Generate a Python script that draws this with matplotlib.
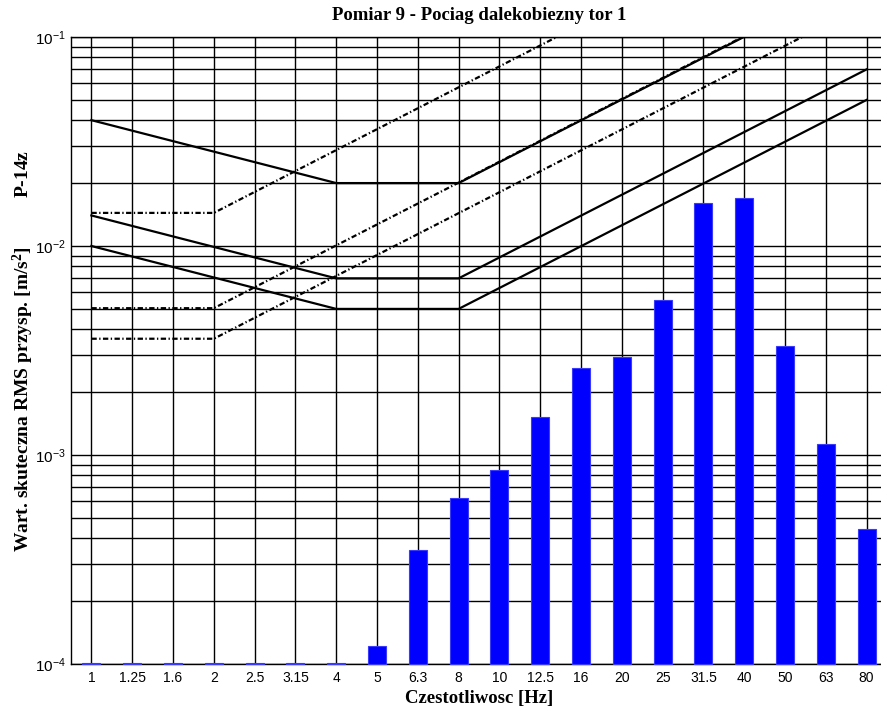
import matplotlib
matplotlib.use("Agg")
import matplotlib.pyplot as plt
import numpy as np

# 1/3 octave band centre frequencies (categories on the x axis)
freq_labels = ["1", "1.25", "1.6", "2", "2.5", "3.15", "4", "5", "6.3", "8",
               "10", "12.5", "16", "20", "25", "31.5", "40", "50", "63", "80"]

# measured RMS acceleration per band [m/s^2]
rms_values = [1.01e-4, 1.01e-4, 1.01e-4, 1.01e-4, 1.01e-4, 1.01e-4, 1.01e-4,
              1.22e-4, 3.5e-4, 6.2e-4, 8.5e-4, 1.52e-3, 2.62e-3, 2.93e-3,
              5.5e-3, 1.61e-2, 1.69e-2, 3.32e-3, 1.13e-3, 4.44e-4]

# limit curves (solid), given at break-point bands
solid_bands = ["1", "4", "8", "80"]
solid_curves = [
    [0.01, 0.005, 0.005, 0.05],
    [0.014, 0.007, 0.007, 0.07],
    [0.04, 0.02, 0.02, 0.2],
]

# limit curves (dash-dot), given at break-point bands
dashdot_bands = ["1", "2", "80"]
dashdot_curves = [
    [0.0036, 0.0036, 0.144],
    [0.00504, 0.00504, 0.2016],
    [0.0144, 0.0144, 0.576],
]

plt.rcParams["mathtext.fontset"] = "custom"
plt.rcParams["mathtext.rm"] = "Liberation Serif:bold"
plt.rcParams["mathtext.it"] = "Liberation Serif:bold"
plt.rcParams["mathtext.bf"] = "Liberation Serif:bold"
plt.rcParams["mathtext.sf"] = "Liberation Sans"

fig = plt.figure(figsize=(8.81, 7.11), dpi=100)
ax = fig.add_axes([71 / 881, 1 - 664 / 711, 816 / 881, 627 / 711])

x = np.arange(1, len(freq_labels) + 1)
ymin = 1e-4

# bars start at the bottom of the log axis
heights = [v - ymin for v in rms_values]
ax.bar(x, heights, bottom=ymin, width=0.44, color="#0000ff",
       edgecolor="#3a3aff", linewidth=0.8, zorder=3, clip_on=False)

pos = {lab: i + 1 for i, lab in enumerate(freq_labels)}
for vals in solid_curves:
    ax.plot([pos[b] for b in solid_bands], vals, color="black", lw=1.6, zorder=4)
for vals in dashdot_curves:
    ax.plot([pos[b] for b in dashdot_bands], vals, color="black", lw=1.6,
            linestyle=(0, (2.4, 1.1, 0.6, 1.1)), zorder=4)

ax.set_yscale("log")
ax.set_ylim(1e-4, 1e-1)
ax.set_xlim(0.5, 20.5)
ax.set_xticks(x)
ax.set_xticklabels(freq_labels, fontfamily="Liberation Sans", fontsize=10)
ax.set_yticks([1e-4, 1e-3, 1e-2, 1e-1])
ax.set_yticklabels([r"$\mathsf{10^{-4}}$", r"$\mathsf{10^{-3}}$",
                    r"$\mathsf{10^{-2}}$", r"$\mathsf{10^{-1}}$"])
ax.tick_params(axis="both", which="both", length=0, pad=5)
ax.tick_params(axis="y", labelsize=11, pad=4)

ax.grid(True, which="both", axis="y", color="black", lw=1.0, zorder=1)
ax.grid(True, which="major", axis="x", color="black", lw=1.0, zorder=1)
ax.set_axisbelow(True)
for s in ax.spines.values():
    s.set_color("black")
    s.set_linewidth(1.0)

ax.set_title("Pomiar 9 - Pociag dalekobiezny tor 1", fontfamily="Liberation Serif",
             fontweight="bold", fontsize=13.5, pad=12)
ax.set_xlabel("Czestotliwosc [Hz]", fontfamily="Liberation Serif",
              fontweight="bold", fontsize=13.5, labelpad=4)
ax.set_ylabel(r"Wart. skuteczna RMS przysp. [m/s$^2$]          P-14z",
              fontfamily="Liberation Serif", fontweight="bold", fontsize=14)
ax.yaxis.set_label_coords(-0.043, 0.5)

fig.savefig("out.png", dpi=100)
